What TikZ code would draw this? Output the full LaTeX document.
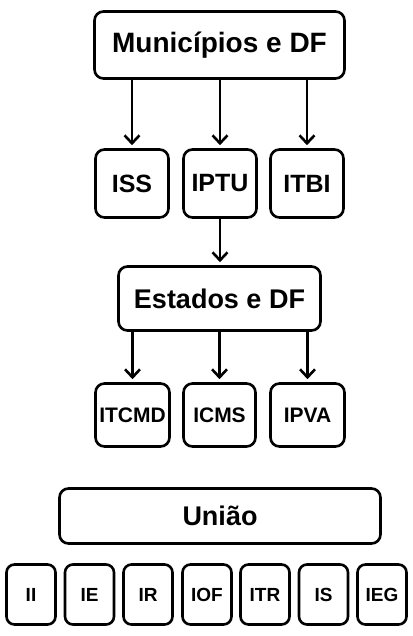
\documentclass[tikz,border=0pt]{standalone}
\usepackage{fontspec}
\setmainfont{Liberation Sans}
\usetikzlibrary{arrows.meta}
\begin{document}
\begin{tikzpicture}[x=1pt,y=-1pt,
  box/.style={draw=black, line width=2.6pt, rounded corners=9pt, fill=white, inner sep=0pt, font=\bfseries},
  arr/.style={draw=black, line width=2.6pt, -{Straight Barb[length=8pt,width=15pt,line width=2.6pt]}, shorten >=3pt}]
\useasboundingbox[fill=white] (0,0) rectangle (412,636);
\node[box, minimum width=250pt, minimum height=67pt, font=\bfseries\fontsize{28}{30}\selectfont] (mun) at (219.5,45) {Municípios e DF};
\node[box, minimum width=73pt, minimum height=68pt, font=\bfseries\fontsize{25}{27}\selectfont] (iss) at (132,183.5) {ISS};
\node[box, minimum width=73pt, minimum height=68pt, font=\bfseries\fontsize{25}{27}\selectfont] (iptu) at (220,183.5) {IPTU};
\node[box, minimum width=73pt, minimum height=68pt, font=\bfseries\fontsize{25}{27}\selectfont] (itbi) at (307,183.5) {ITBI};
\node[box, minimum width=202pt, minimum height=64pt, font=\bfseries\fontsize{27}{29}\selectfont] (est) at (219.5,298.5) {Estados e DF};
\node[box, minimum width=74pt, minimum height=63pt, font=\bfseries\fontsize{21}{23}\selectfont] (itcmd) at (132.5,415) {ITCMD};
\node[box, minimum width=72pt, minimum height=63pt, font=\bfseries\fontsize{21}{23}\selectfont] (icms) at (219.5,415) {ICMS};
\node[box, minimum width=74pt, minimum height=63pt, font=\bfseries\fontsize{21}{23}\selectfont] (ipva) at (307.5,415) {IPVA};
\node[box, minimum width=321pt, minimum height=55pt, font=\bfseries\fontsize{27}{29}\selectfont] (uniao) at (220,516) {União};
\foreach \lab/\nm/\xx in {II/ii/31, IE/ie/89.5, IR/ir/148, IOF/iof/207, ITR/itr/265, IS/is/323.5, IEG/ieg/382}{
  \node[box, minimum width=49pt, minimum height=60pt, rounded corners=8pt, font=\bfseries\fontsize{19}{21}\selectfont] (\nm) at (\xx,594.5) {\lab};
}
\draw[arr] (mun.south -| iss) -- (iss.north);
\draw[arr] (mun.south -| iptu) -- (iptu.north);
\draw[arr] (mun.south -| itbi) -- (itbi.north);
\draw[arr] (iptu.south) -- (iptu.south |- est.north);
\draw[arr] (est.south -| itcmd) -- (itcmd.north);
\draw[arr] (est.south -| icms) -- (icms.north);
\draw[arr] (est.south -| ipva) -- (ipva.north);
\end{tikzpicture}
\end{document}
